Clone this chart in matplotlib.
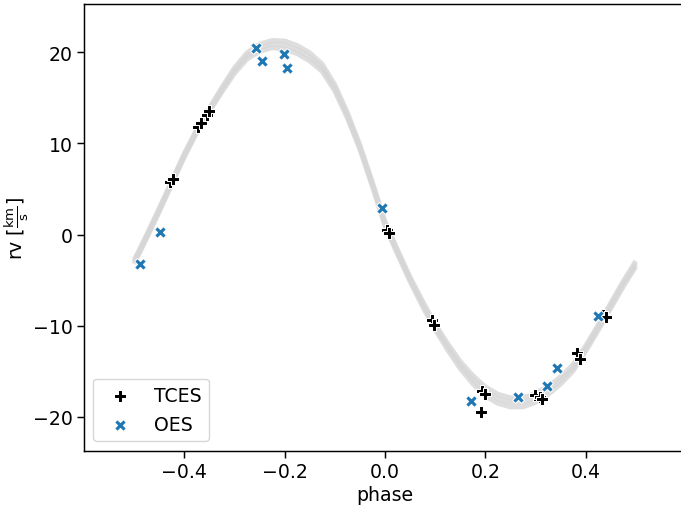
import matplotlib
matplotlib.use("Agg")
import matplotlib.pyplot as plt

# --- data ------------------------------------------------------------------
# phase-folded model band (centre and half-spread of the sampled curves)
model_phase = [-0.5, -0.475, -0.45, -0.425, -0.4, -0.375, -0.35, -0.325, -0.3,
               -0.275, -0.25, -0.225, -0.2, -0.175, -0.15, -0.125, -0.1,
               -0.075, -0.05, -0.025, 0.0, 0.025, 0.05, 0.075, 0.1, 0.125,
               0.15, 0.175, 0.2, 0.225, 0.25, 0.275, 0.3, 0.325, 0.35, 0.375,
               0.4, 0.425, 0.45, 0.475, 0.5]
model_rv = [-3.0, -0.2, 2.7, 5.7, 8.7, 11.4, 13.7, 15.9, 18.0,
            19.6, 20.5, 20.9, 20.8, 20.3, 19.5, 18.3, 16.1,
            13.1, 9.6, 5.5, 1.2, -1.9, -4.9, -7.6, -10.1, -12.3,
            -14.3, -15.9, -17.2, -18.0, -18.4, -18.4, -17.9, -17.1, -16.0, -14.6,
            -12.5, -10.2, -7.8, -5.4, -3.2]
model_spread = [0.2, 0.2, 0.2, 0.2, 0.2, 0.2, 0.2, 0.25, 0.3,
                0.35, 0.4, 0.4, 0.45, 0.45, 0.45, 0.4, 0.35,
                0.3, 0.25, 0.25, 0.25, 0.25, 0.25, 0.3, 0.3, 0.35,
                0.4, 0.45, 0.5, 0.5, 0.5, 0.5, 0.5, 0.45, 0.4, 0.35,
                0.3, 0.3, 0.3, 0.3, 0.3]

tces_phase = [-0.429, -0.423, -0.372, -0.366, -0.355, -0.350, 0.004, 0.009,
              0.093, 0.098, 0.194, 0.199, 0.191, 0.299, 0.309, 0.313,
              0.383, 0.388, 0.435, 0.440]
tces_rv = [5.8, 6.1, 11.8, 12.2, 13.1, 13.6, 0.5, 0.2,
           -9.4, -9.9, -17.1, -17.5, -19.4, -17.6, -17.8, -18.0,
           -13.0, -13.6, -8.8, -9.0]

oes_phase = [-0.488, -0.448, -0.257, -0.246, -0.201, -0.195, -0.005,
             0.171, 0.266, 0.322, 0.343, 0.424]
oes_rv = [-3.2, 0.3, 20.5, 19.0, 19.8, 18.3, 2.9,
          -18.2, -17.8, -16.6, -14.6, -8.9]

plt.rcParams.update({"font.size": 13.6, "axes.linewidth": 1.06,
                     "xtick.major.size": 4.7, "ytick.major.size": 4.7,
                     "xtick.major.width": 1.06, "ytick.major.width": 1.06})

fig = plt.figure(figsize=(6.81, 5.06), dpi=100)
ax = fig.add_axes([0.1233, 0.1073, 0.8840, 0.8828])

# model band
for sign in (-1, 0, 1):
    ax.plot(model_phase, [r + sign * s for r, s in zip(model_rv, model_spread)],
            color="#d6d6d6", lw=3.5, alpha=0.8, solid_capstyle="butt", zorder=1)

ax.scatter(tces_phase, tces_rv, marker="P", s=72, color="black",
           edgecolor="white", linewidth=0.75, label="TCES", zorder=3)
ax.scatter(oes_phase, oes_rv, marker="X", s=72, color="#1f77b4",
           edgecolor="white", linewidth=0.75, label="OES", zorder=3)

ax.set_xlim(-0.6, 0.6)
ax.set_ylim(-23.7, 25.3)
ax.set_xticks([-0.4, -0.2, 0.0, 0.2, 0.4])
ax.set_yticks([-20, -10, 0, 10, 20])
ax.set_xlabel("phase", labelpad=3)
ax.set_ylabel(r"rv [$\frac{\mathrm{km}}{\mathrm{s}}$]", labelpad=1)
ax.legend(loc="lower left")

fig.savefig("out.png", dpi=100)
